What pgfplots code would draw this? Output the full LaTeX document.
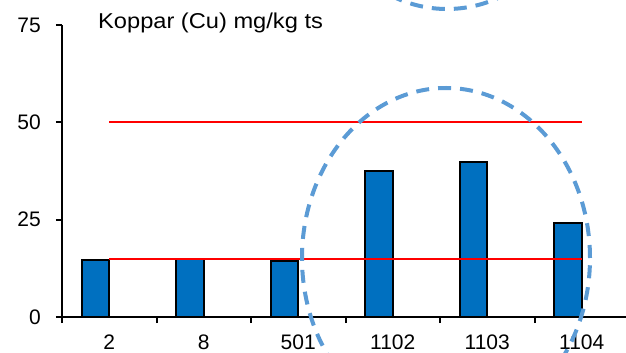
\documentclass[border=0pt]{standalone}
\usepackage{pgfplots}
\pgfplotsset{compat=1.18}
\usepackage{fontspec}
\usepackage{graphicx}
\setmainfont{Liberation Sans}
\definecolor{barblue}{HTML}{0070C0}
\definecolor{ellblue}{HTML}{5B9BD5}
\begin{document}
\begin{tikzpicture}
\useasboundingbox (-62pt,-36pt) rectangle (564pt,317pt);
\clip (-62pt,-36pt) rectangle (564pt,317pt);
\begin{axis}[
  scale only axis,
  width=567pt, height=292pt,
  xmin=-0.5, xmax=5.5,
  ymin=0, ymax=75,
  axis x line=bottom, axis y line=left,
  axis line style={line width=2pt, -},
  every tick/.style={line width=2pt, black},
  tick align=outside,
  xtick={0,1,2,3,4,5},
  xticklabels={2,8,501,1102,1103,1104},
  major x tick style={draw=none},
  minor xtick={-0.5,0.5,1.5,2.5,3.5,4.5,5.5},
  minor tick length=6pt,
  major tick length=6pt,
  ytick={0,25,50,75},
  /pgf/number format/assume math mode=true,
  tick label style={font=\fontsize{21}{24}\selectfont, inner sep=0pt},
  yticklabel style={anchor=east, xshift=-15pt},
  xticklabel style={anchor=north, yshift=-12pt},
  clip=false,
]
\addplot[ybar, bar width=27.5pt, bar shift=-13.75pt, fill=barblue, draw=black, line width=2pt]
  coordinates {(0,14.6) (1,14.9) (2,14.5) (3,37.6) (4,39.9) (5,24.1)};
\addplot[red, line width=2pt] coordinates {(0,15) (5,15)};
\addplot[red, line width=2pt] coordinates {(0,50) (5,50)};
\end{axis}
\draw[ellblue, line width=4pt, dash pattern=on 13pt off 9pt] (384pt,59pt) ellipse [x radius=144pt, y radius=170pt];
\draw[ellblue, line width=4pt, dash pattern=on 13pt off 9pt] (385pt,478pt) ellipse [x radius=144pt, y radius=170pt];
\node[anchor=base west, inner sep=0pt] at (36pt,288.7pt) {\scalebox{1.1}[1]{\fontsize{21.5}{24}\selectfont Koppar (Cu) mg/kg ts}};
\end{tikzpicture}
\end{document}
